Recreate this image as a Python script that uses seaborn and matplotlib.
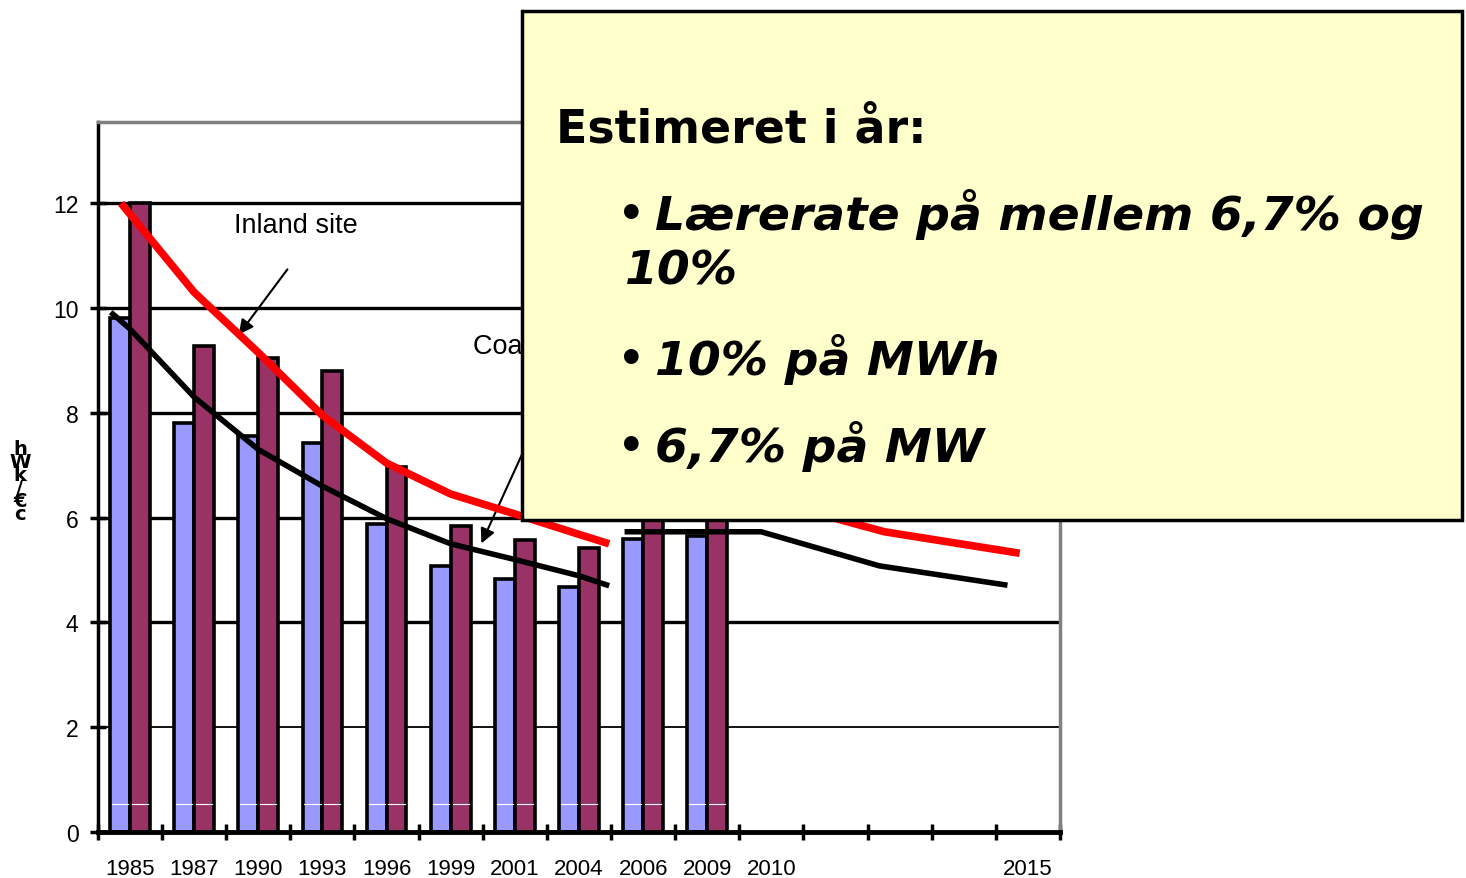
import numpy as np
import pandas as pd
import matplotlib
matplotlib.use('Agg')
import matplotlib.pyplot as plt
import seaborn as sns
from matplotlib.patches import Rectangle

# categories on the x axis (three unlabeled slots before 2015)
years = ['1985', '1987', '1990', '1993', '1996', '1999', '2001', '2004', '2006', '2009',
         '2010', '2011', '2012', '2013', '2015']
year_labels = ['1985', '1987', '1990', '1993', '1996', '1999', '2001', '2004', '2006', '2009',
               '2010', '', '', '', '2015']

# bar values (c€/kWh), only the first ten years have bars
bar_years = years[:10]
coastal = [9.8, 7.8, 7.55, 7.42, 5.88, 5.08, 4.83, 4.68, 5.6, 5.65]
inland = [12.0, 9.27, 9.05, 8.8, 6.97, 5.84, 5.58, 5.42, 6.4, 6.4]

# trend curves, x in category units
red_x = [-0.14, 1.0, 2.0, 3.0, 4.0, 5.0, 6.0, 7.0, 7.47]
red_y = [12.0, 10.3, 9.15, 7.95, 7.04, 6.45, 6.07, 5.68, 5.5]
red2_x = [10.5, 11.76, 13.87]
red2_y = [6.15, 5.73, 5.32]
black_x = [-0.3, 0.0, 1.0, 2.0, 3.0, 4.0, 5.0, 6.0, 7.0, 7.47]
black_y = [9.92, 9.6, 8.3, 7.3, 6.6, 5.98, 5.5, 5.2, 4.89, 4.7]
black2_x = [7.71, 9.84, 11.68, 13.68]
black2_y = [5.73, 5.73, 5.08, 4.71]

yticks = [0, 2, 4, 6, 8, 10, 12]

df = pd.DataFrame({
    'year': bar_years * 2,
    'value': coastal + inland,
    'site': ['Coastal'] * len(bar_years) + ['Inland'] * len(bar_years),
})

fig = plt.figure(figsize=(14.66, 8.79), dpi=100)
ax = fig.add_axes([0.0668, 0.0523, 0.6563, 0.8078])

sns.barplot(data=df, x='year', y='value', hue='site', order=years,
            hue_order=['Coastal', 'Inland'], palette=['#9999FF', '#993366'],
            width=0.62, edgecolor='black', linewidth=2.6, saturation=1,
            errorbar=None, legend=False, ax=ax)

# little white marks inside the bars
for p in ax.patches:
    if p.get_height() > 0:
        ax.plot([p.get_x() + 0.03, p.get_x() + p.get_width() - 0.03], [0.53, 0.53],
                color='white', lw=0.8, zorder=3)

ax.plot(red_x, red_y, color='#FF0000', lw=5.5, solid_capstyle='butt', zorder=4)
ax.plot(red2_x, red2_y, color='#FF0000', lw=5.5, solid_capstyle='butt', zorder=4)
ax.plot(black_x, black_y, color='black', lw=4, solid_capstyle='butt', zorder=4)
ax.plot(black2_x, black2_y, color='black', lw=4, solid_capstyle='butt', zorder=4)

ax.set_xlim(-0.5, 14.5)
ax.set_ylim(0, 13.55)
ax.set_axisbelow(True)
for t in yticks[1:]:
    ax.axhline(t, color='black', lw=2.4 if t > 2 else 1.3, zorder=0)

ax.set_yticks(yticks)
ax.set_yticklabels([str(t) for t in yticks], fontsize=16.5, family='Liberation Sans')
ax.tick_params(axis='y', direction='inout', length=12, width=2.5, pad=8)
ax.set_xticks(range(len(years)))
ax.set_xticklabels(year_labels, fontsize=16, family='Liberation Sans')
ax.tick_params(axis='x', which='major', length=0, pad=19)
ax.set_xticks(np.arange(-0.5, 15, 1), minor=True)
ax.tick_params(axis='x', which='minor', direction='inout', length=12, width=2.5)
ax.set_xlabel('')
ax.set_ylabel('')

ax.spines['bottom'].set_linewidth(3.5)
ax.spines['left'].set_linewidth(2.5)
for s in ['top', 'right']:
    ax.spines[s].set_color('#808080')
    ax.spines[s].set_linewidth(2.5)

ax.text(2.59, 11.58, 'Inland site', fontsize=19.5, family='Liberation Sans',
        ha='center', va='center')
ax.annotate('', xy=(1.67, 9.45), xytext=(2.48, 10.78),
            arrowprops=dict(arrowstyle='-|>', color='black', lw=1.5, mutation_scale=22))
ax.text(5.34, 9.27, 'Coastal site', fontsize=19.5, family='Liberation Sans',
        ha='left', va='center')
ax.annotate('', xy=(5.46, 5.46), xytext=(6.15, 7.31),
            arrowprops=dict(arrowstyle='-|>', color='black', lw=1.5, mutation_scale=22))

# stacked y-axis unit label
fig.text(0.0136, 0.452, 'h\nW\nk\n/\n€\nc', fontsize=14, fontweight='bold',
         ha='center', va='center', linespacing=0.6, family='DejaVu Sans')

# yellow call-out box
box = Rectangle((0.356, 0.407), 0.641, 0.579, transform=fig.transFigure,
                facecolor='#FFFFCC', edgecolor='black', lw=2.5, zorder=5)
fig.add_artist(box)

fig.text(0.379, 1 - 130 / 879, 'Estimeret i år:', fontsize=33, fontweight='bold',
         family='DejaVu Sans', ha='left', va='center', zorder=6)
bullets = [(215, 'Lærerate på mellem 6,7% og'), (360, '10% på MWh'), (447, '6,7% på MW')]
for py, txt in bullets:
    fig.text(0.4215, 1 - py / 879, '•', fontsize=30, fontweight='bold',
             family='DejaVu Sans', ha='left', va='center', zorder=6)
    fig.text(0.4465, 1 - py / 879, txt, fontsize=34, fontweight='bold', style='italic',
             family='DejaVu Sans', ha='left', va='center', zorder=6)
fig.text(0.4265, 1 - 272 / 879, '10%', fontsize=34, fontweight='bold', style='italic',
         family='DejaVu Sans', ha='left', va='center', zorder=6)

fig.savefig('out.png', dpi=100)
